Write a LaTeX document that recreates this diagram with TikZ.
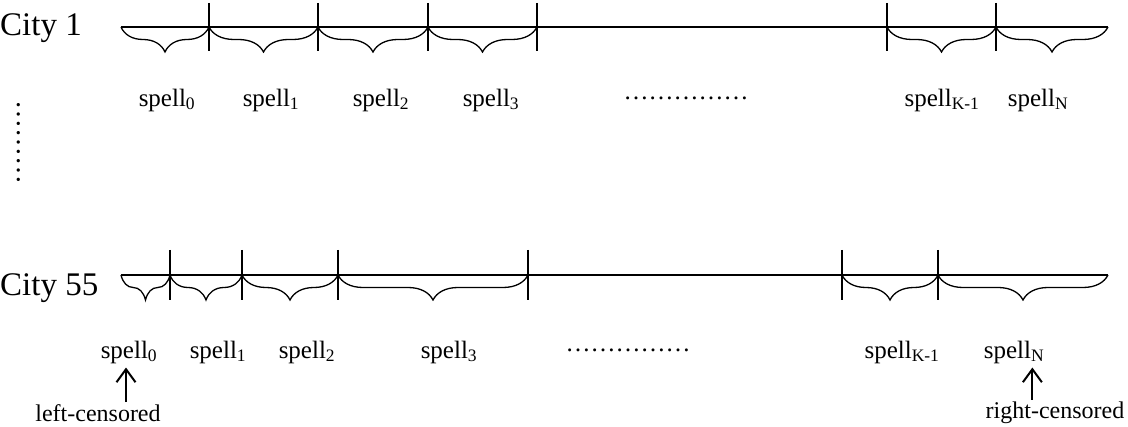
\documentclass[tikz,border=0pt]{standalone}
\usepackage{fontspec}
\setmainfont{Liberation Serif}
\usepackage{tikz}
\usetikzlibrary{arrows.meta,decorations.pathreplacing,calc}
\tikzset{
    axisline/.style={line width=1.6pt},
    tick/.style={line width=1.6pt},
    spellbrace/.style={line width=1.3pt, decorate, decoration={brace, mirror, amplitude=25pt, aspect=0.5}},
    lbl/.style={inner sep=0pt, font=\fontsize{25}{28}\selectfont},
    city/.style={inner sep=0pt, anchor=west, font=\fontsize{33}{36}\selectfont},
    cens/.style={inner sep=0pt, font=\fontsize{24}{27}\selectfont},
    censarrow/.style={line width=2pt, -{Straight Barb[length=13pt,width=19pt,line width=2pt]}}}
\newcommand{\spell}[1]{spell\textsubscript{#1}}

\begin{document}
\begin{tikzpicture}[x=1pt,y=-1pt]
\useasboundingbox (0,0) rectangle (1128,427);
% city 1
\node[city] (C1) at (0,28) {City 1};
\coordinate (A0) at (121,27);
\coordinate (A6) at (1108,27);
\draw[axisline] (A0) -- (A6);
\foreach \n/\x in {1/209,2/318,3/428,4/537,5/887,6/996}{
\coordinate (T\n) at (\x,27);
\draw[tick] (\x,3) -- (\x,51);
}
\coordinate (T0) at (A0);
\coordinate (T7) at (A6);
\draw[spellbrace] (T0) -- (T1);
\draw[spellbrace] (T1) -- (T2);
\draw[spellbrace] (T2) -- (T3);
\draw[spellbrace] (T3) -- (T4);
\draw[spellbrace] (T5) -- (T6);
\draw[spellbrace] (T6) -- (T7);
\node[lbl] (s10) at (167,100) {\spell{0}};
\node[lbl] (s11) at (271,100) {\spell{1}};
\node[lbl] (s12) at (381,100) {\spell{2}};
\node[lbl] (s13) at (491,100) {\spell{3}};
\node[lbl] (d1) at (686,98) {……………};
\node[lbl] (s1K) at (942,100) {\spell{K-1}};
\node[lbl] (s1N) at (1038,100) {\spell{N}};
% vertical dots
\node[lbl, rotate=-90, font=\fontsize{28}{30}\selectfont] (vd) at (19,143) {………};
% city 55
\node[city] (C55) at (0,288) {City 55};
\coordinate (B0) at (121,275);
\coordinate (B6) at (1108,275);
\draw[axisline] (B0) -- (B6);
\foreach \n/\x in {1/170,2/242,3/338,4/528,5/842,6/938}{
\coordinate (U\n) at (\x,275);
\draw[tick] (\x,250) -- (\x,300);
}
\coordinate (U0) at (B0);
\coordinate (U7) at (B6);
\draw[spellbrace] (U0) -- (U1);
\draw[spellbrace] (U1) -- (U2);
\draw[spellbrace] (U2) -- (U3);
\draw[spellbrace] (U3) -- (U4);
\draw[spellbrace] (U5) -- (U6);
\draw[spellbrace] (U6) -- (U7);
\node[lbl] (s20) at (129,352) {\spell{0}};
\node[lbl] (s21) at (218,352) {\spell{1}};
\node[lbl] (s22) at (307,352) {\spell{2}};
\node[lbl] (s23) at (449,352) {\spell{3}};
\node[lbl] (d2) at (628,350) {……………};
\node[lbl] (s2K) at (902,352) {\spell{K-1}};
\node[lbl] (s2N) at (1014,352) {\spell{N}};
% censored
\node[cens] (lc) at (98,413) {left-censored};
\node[cens] (rc) at (1055,413) {right-censored};
\draw[censarrow] ($(lc.north -| s20)+(-3,-2)$) -- ($(s20.south)+(-3,4)$);
\draw[censarrow] ($(rc.north -| s2N.east)+(-12,-2)$) -- ($(s2N.south east)+(-12,4)$);
\end{tikzpicture}
\end{document}
